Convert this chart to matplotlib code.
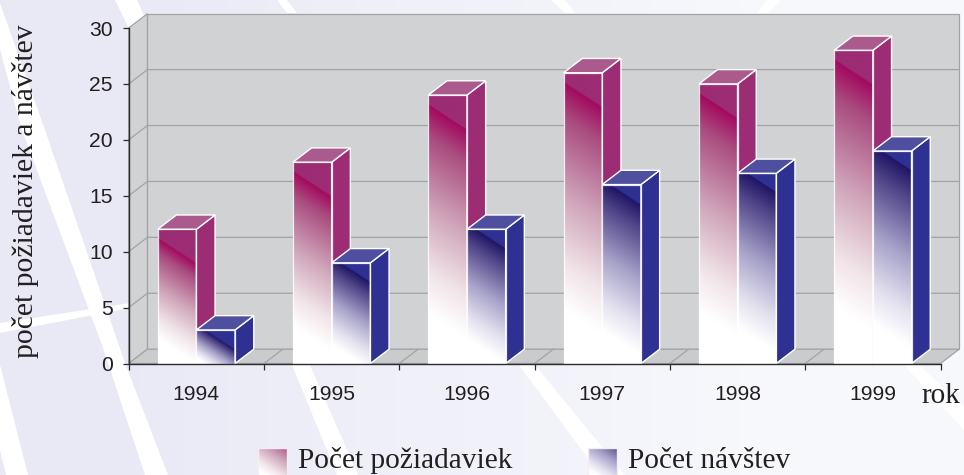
import matplotlib
matplotlib.use("Agg")
import matplotlib.pyplot as plt
import numpy as np
from matplotlib.patches import Polygon

years = ["1994", "1995", "1996", "1997", "1998", "1999"]
poziadavky = [12, 18, 24, 26, 25, 28]
navstevy = [3, 9, 12, 16, 17, 19]
y_ticks = [0, 5, 10, 15, 20, 25, 30]

W, H = 964, 475
left, right, bottom, top = 128.7, 940.5, 363.5, 28.0
ppx = (right - left) / len(years)  # pixels per category
ppy = (bottom - top) / 30.0        # pixels per unit
dx = 18.7 / ppx  # depth of the fake 3d box
dy = 14.3 / ppy
bar_w = 0.286

SANS = "Liberation Sans"
SERIF = "Liberation Serif"
TXT = "#231f20"

PINK_STOPS = ["#ffffff", "#f1e4e8", "#d0a6ba", "#a94c7f", "#a3085f"]
BLUE_STOPS = ["#ffffff", "#e3e1ef", "#a7a2c9", "#4d4286", "#1e1464"]
STOP_POS = [0, 0.2, 0.5, 0.85, 1]


def rgb(c):
    return np.array(matplotlib.colors.to_rgb(c))


def gradient(w_px, h_px, stops, flat, band):
    # diagonal fade: white lower left, dark upper right, flat corner on top
    nx, ny = max(int(w_px) * 2, 2), max(int(h_px) * 2, 2)
    xx, yy = np.meshgrid(np.linspace(0, w_px, nx), np.linspace(0, h_px, ny))
    s = yy + 0.65 * xx
    s0 = 0.19 * h_px
    smax = h_px + band
    t = np.clip((s - s0) / (smax - s0), 0, 1)
    cols = np.array([rgb(c) for c in stops])
    img = np.dstack([np.interp(t, STOP_POS, cols[:, k]) for k in range(3)])
    img[s > smax] = rgb(flat)
    return img


fig = plt.figure(figsize=(W / 100, H / 100), dpi=100)

# background picture
bg = fig.add_axes([0, 0, 1, 1])
bg.set_xlim(0, W)
bg.set_ylim(H, 0)
bg.axis("off")
grad = np.linspace(0, 1, 256).reshape(1, -1, 1)
bg_img = rgb("#e8e9f5") + (rgb("#f7f8fc") - rgb("#e8e9f5")) * np.clip(grad * 1.5 - 0.15, 0, 1)
bg.imshow(bg_img, extent=(0, W, H, 0), aspect="auto", zorder=0)
stripes = [
    [(0, 3), (45, 130), (125, 363), (168, 475), (145, 475), (102, 345), (22, 130), (0, 50)],
    [(115, 0), (292, 365), (337, 475), (358, 475), (310, 365), (137, 0)],
    [(0, 365), (28, 475), (6, 475), (0, 450)],
    [(0, 323), (130, 303), (130, 308), (0, 333)],
    [(277, 0), (287, 13), (297, 13), (287, 0)],
    [(551, 0), (565, 13), (575, 13), (565, 0)],
    [(767, 0), (757, 13), (768, 13), (781, 0)],
    [(519, 365), (600, 475), (625, 475), (535, 365)],
    [(904, 365), (964, 430), (964, 407), (919, 365)],
]
for st in stripes:
    bg.add_patch(Polygon(st, closed=True, fc="white", ec="none", zorder=1))

# legend and serif labels go straight on the background axes
for x0, stops, label, tx in [(258, PINK_STOPS, "Počet požiadaviek", 298), (588, BLUE_STOPS, "Počet návštev", 628)]:
    bg.imshow(gradient(29, 27, stops, stops[-1], 30), extent=(x0, x0 + 29, 475, 448), origin="lower",
              aspect="auto", zorder=2)
    bg.add_patch(Polygon([(x0, 475), (x0, 448), (x0 + 29, 448), (x0 + 29, 475)], closed=False,
                         fc="none", ec="#f4eef4", lw=1, zorder=3))
    bg.text(tx, 468.5, label, family=SERIF, fontsize=21.2, color=TXT, ha="left", va="baseline")
bg.text(26, 191, "počet požiadaviek a návštev", family=SERIF, fontsize=21.3, color=TXT,
        rotation=90, ha="center", va="center")
bg.set_xlim(0, W)
bg.set_ylim(H, 0)

# chart
ax = fig.add_axes([left / W, 1 - bottom / H, (right - left) / W, (bottom - top) / H])
ax.patch.set_alpha(0)
ax.set_xlim(0, len(years))
ax.set_ylim(0, 30)
n = len(years)

WALL = "#d1d2d4"
LINE = "#a2a3a5"
LW = 0.9
ax.add_patch(Polygon([(dx, dy), (n + dx, dy), (n + dx, 30 + dy), (dx, 30 + dy)], fc=WALL, ec=LINE, lw=LW,
                     clip_on=False, zorder=1))
ax.add_patch(Polygon([(0, 0), (dx, dy), (dx, 30 + dy), (0, 30)], fc=WALL, ec=LINE, lw=LW, clip_on=False, zorder=1))
ax.add_patch(Polygon([(0, 0), (n, 0), (n + dx, dy), (dx, dy)], fc="#cacbcc", ec=LINE, lw=LW, clip_on=False, zorder=1))
for v in y_ticks[1:-1]:
    ax.plot([0, dx, n + dx], [v, v + dy, v + dy], color=LINE, lw=LW, clip_on=False, zorder=1.1)
for i in range(1, n):
    ax.plot([i, i + dx], [0, dy], color=LINE, lw=LW, clip_on=False, zorder=1.1)


def box(x0, val, stops, flat, top_col, band):
    x1 = x0 + bar_w
    img = gradient(bar_w * ppx, val * ppy, stops, flat, band)
    ax.imshow(img, extent=(x0, x1, 0, val), origin="lower", aspect="auto", zorder=2)
    ax.add_patch(Polygon([(x1, 0), (x1 + dx, dy), (x1 + dx, val + dy), (x1, val)], fc=flat, ec="white", lw=1.0,
                         clip_on=False, zorder=2))
    ax.add_patch(Polygon([(x0, val), (x1, val), (x1 + dx, val + dy), (x0 + dx, val + dy)], fc=top_col, ec="white",
                         lw=1.0, clip_on=False, zorder=2))
    ax.plot([x0, x0, x1, x1], [0, val, val, 0], color="white", lw=0.9, alpha=0.85, zorder=2)


for i in range(n):
    box(i + 0.5 - bar_w, poziadavky[i], PINK_STOPS, "#9c2c74", "#ab5a8d", -9)
    box(i + 0.5, navstevy[i], BLUE_STOPS, "#2e3192", "#4f4f9f", 6)

ax.set_xlim(0, n)
ax.set_ylim(0, 30)
for s in ["top", "right"]:
    ax.spines[s].set_visible(False)
for s in ["left", "bottom"]:
    ax.spines[s].set_linewidth(1.0)
    ax.spines[s].set_color("#2b2b2b")
ax.set_yticks(y_ticks)
ax.set_yticklabels([str(v) for v in y_ticks], family=SANS, fontsize=15.2, color=TXT)
ax.tick_params(axis="y", length=4.5, width=0.9, color="#2b2b2b", pad=7)
ax.set_xticks(np.arange(n + 1))
ax.set_xticklabels([])
ax.tick_params(axis="x", length=4.5, width=0.9, color="#2b2b2b")
for i, y in enumerate(years):
    ax.text(i + 0.5, 30 * (bottom - 395) / (bottom - top), y, family=SANS, fontsize=15.2, color=TXT,
            ha="center", va="center", clip_on=False)
bg.text(921, 403, "rok", family=SERIF, fontsize=21, color=TXT, ha="left", va="baseline")

fig.savefig("out.png", dpi=100)
